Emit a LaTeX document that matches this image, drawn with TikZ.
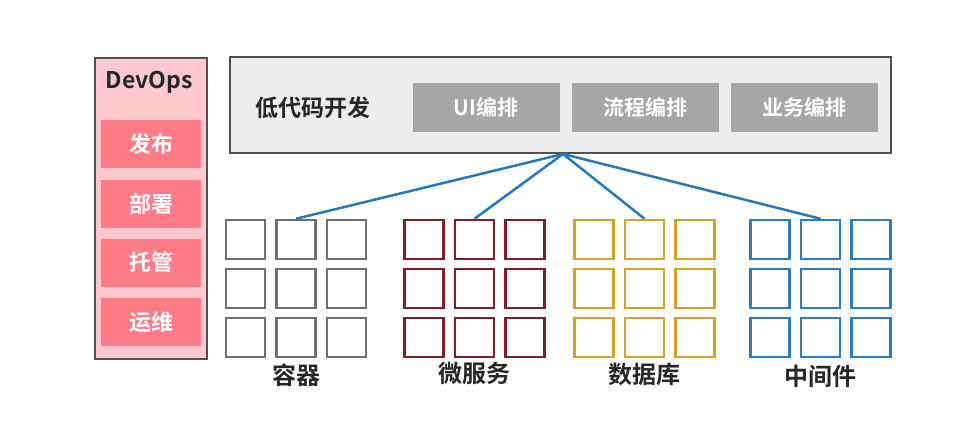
\documentclass[tikz,border=0pt]{standalone}
\usepackage{fontspec}
\newfontfamily\cjk{Noto Sans CJK SC}[BoldFont={Noto Sans CJK SC Bold}]
\usetikzlibrary{positioning}
\definecolor{framegray}{HTML}{505050}
\definecolor{opspink}{HTML}{FFC7CE}
\definecolor{opsred}{HTML}{FF7C88}
\definecolor{panelgray}{HTML}{EDEDED}
\definecolor{toolgray}{HTML}{A6A6A6}
\definecolor{cellgray}{HTML}{707070}
\definecolor{cellred}{HTML}{7E1F2E}
\definecolor{cellgold}{HTML}{D4A12A}
\definecolor{cellblue}{HTML}{2B7CC0}
\definecolor{linkblue}{HTML}{2778BA}
\definecolor{textdark}{HTML}{262626}
\tikzset{
  panel/.style={draw=framegray, line width=2pt, fill=#1},
  opsbox/.style={fill=opsred, minimum width=100pt, minimum height=48pt, text=white,
    font=\cjk\bfseries\fontsize{22}{22}\selectfont},
  toolbox/.style={fill=toolgray, minimum width=147pt, minimum height=49pt, text=white,
    font=\cjk\bfseries\fontsize{21}{21}\selectfont},
  cell/.style={draw=#1, line width=2.5pt, fill=white, minimum size=39pt, inner sep=0pt},
  link/.style={draw=linkblue, line width=2.5pt},
  title/.style={text=textdark, font=\cjk\bfseries\fontsize{#1}{#1}\selectfont},
}

\begin{document}
\begin{tikzpicture}[x=1pt, y=-1pt]
  \useasboundingbox (0,0) rectangle (970,444);

  % DevOps column
  \node[panel=opspink, minimum width=112pt, minimum height=301pt] (devops) at (151,208.5) {};
  \node[title=23] (devopstitle) at (149,82) {DevOps};
  \node[opsbox] (release) at (151,144) {发布};
  \node[opsbox] (deploy) at (151,204) {部署};
  \node[opsbox] (host) at (151,262.5) {托管};
  \node[opsbox] (ops) at (151,322) {运维};

  % low-code platform
  \node[panel=panelgray, minimum width=661pt, minimum height=96pt] (lowcode) at (560,105) {};
  \node[title=23] (lowcodetitle) at (313,108) {低代码开发};
  \node[toolbox] (ui) at (486,107.5) {UI编排};
  \node[toolbox, right=12pt of ui] (flow) {流程编排};
  \node[toolbox, right=12pt of flow] (biz) {业务编排};
  \coordinate (hub) at ([xshift=3pt]lowcode.south);

  % resource grids
  \foreach \g/\x/\col in {1/245.5/cellgray, 2/424/cellred, 3/594/cellgold, 4/770/cellblue} {
    \foreach \r in {1,2,3} {
      \foreach \c in {1,2,3} {
        \node[cell=\col] (g\g-\r-\c) at ({\x+(\c-1)*50.5}, {239.5+(\r-1)*49}) {};
      }
    }
    \draw[link] (hub) -- (g\g-1-2.north);
  }

  \node[title=24, below=2pt of g1-3-2] (container) {容器};
  \node[title=24, below=0pt of g2-3-2] (micro) {微服务};
  \node[title=24, below=1pt of g3-3-2] (database) {数据库};
  \node[title=24, below=3pt of g4-3-2] (middleware) {中间件};
\end{tikzpicture}
\end{document}
